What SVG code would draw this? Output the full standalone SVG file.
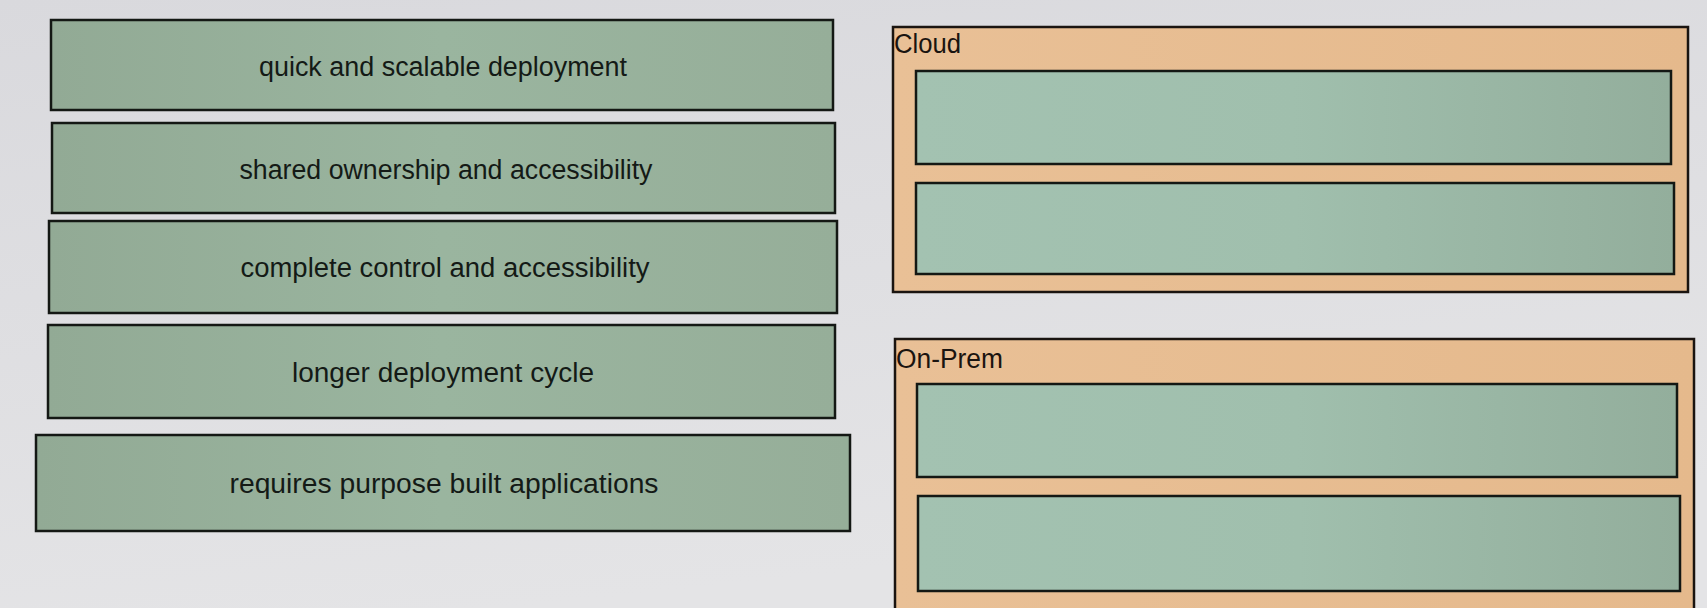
<svg xmlns="http://www.w3.org/2000/svg" width="1707" height="608" viewBox="0 0 1707 608">
<defs>
<linearGradient id="bg" x1="0" y1="0" x2="0.3" y2="1">
<stop offset="0" stop-color="#d9d9dd"/>
<stop offset="1" stop-color="#e4e4e6"/>
</linearGradient>
<linearGradient id="card" x1="0" y1="0" x2="1" y2="0">
<stop offset="0" stop-color="#92aa95"/>
<stop offset="0.5" stop-color="#9ab59f"/>
<stop offset="1" stop-color="#96ae99"/>
</linearGradient>
<linearGradient id="slot" x1="0" y1="0" x2="1" y2="0">
<stop offset="0" stop-color="#a3c2b1"/>
<stop offset="0.5" stop-color="#a0bfad"/>
<stop offset="1" stop-color="#93ae9c"/>
</linearGradient>
<linearGradient id="zone" x1="0" y1="0" x2="1" y2="0">
<stop offset="0" stop-color="#e9c096"/>
<stop offset="1" stop-color="#e5b98c"/>
</linearGradient>
</defs>
<style>
.card{fill:url(#card);stroke:#141814;stroke-width:2.5}
.slot{fill:url(#slot);stroke:#141814;stroke-width:2.5}
.zone{fill:url(#zone);stroke:#1a1410;stroke-width:2.5}
.t{font-family:"Liberation Sans",Arial,sans-serif;font-size:27px;fill:#141a16;text-anchor:middle}
.lbl{font-family:"Liberation Sans",Arial,sans-serif;font-size:27px;fill:#1a1410}
</style>
<rect x="0" y="0" width="1707" height="608" fill="url(#bg)"/>

<g id="card1">
<rect class="card" x="51" y="20" width="782" height="90"/>
<text class="t" x="443" y="76" textLength="368" lengthAdjust="spacingAndGlyphs">quick and scalable deployment</text>
</g>
<g id="card2">
<rect class="card" x="52" y="123" width="783" height="90"/>
<text class="t" x="446" y="179" textLength="413" lengthAdjust="spacingAndGlyphs">shared ownership and accessibility</text>
</g>
<g id="card3">
<rect class="card" x="49" y="221" width="788" height="92"/>
<text class="t" x="445" y="277" textLength="409" lengthAdjust="spacingAndGlyphs">complete control and accessibility</text>
</g>
<g id="card4">
<rect class="card" x="48" y="325" width="787" height="93"/>
<text class="t" x="443" y="382" textLength="302" lengthAdjust="spacingAndGlyphs">longer deployment cycle</text>
</g>
<g id="card5">
<rect class="card" x="36" y="435" width="814" height="96"/>
<text class="t" x="444" y="493" textLength="429" lengthAdjust="spacingAndGlyphs">requires purpose built applications</text>
</g>

<g id="cloud">
<rect class="zone" x="893" y="27" width="795" height="265"/>
<text class="lbl" x="894" y="53" textLength="67" lengthAdjust="spacingAndGlyphs">Cloud</text>
<rect class="slot" x="916" y="71" width="755" height="93"/>
<rect class="slot" x="916" y="183" width="758" height="91"/>
</g>

<g id="onprem">
<rect class="zone" x="895" y="339" width="799" height="275"/>
<text class="lbl" x="896" y="368" textLength="107" lengthAdjust="spacingAndGlyphs">On-Prem</text>
<rect class="slot" x="917" y="384" width="760" height="93"/>
<rect class="slot" x="918" y="496" width="762" height="95"/>
</g>

<g id="connectors"/>
</svg>
